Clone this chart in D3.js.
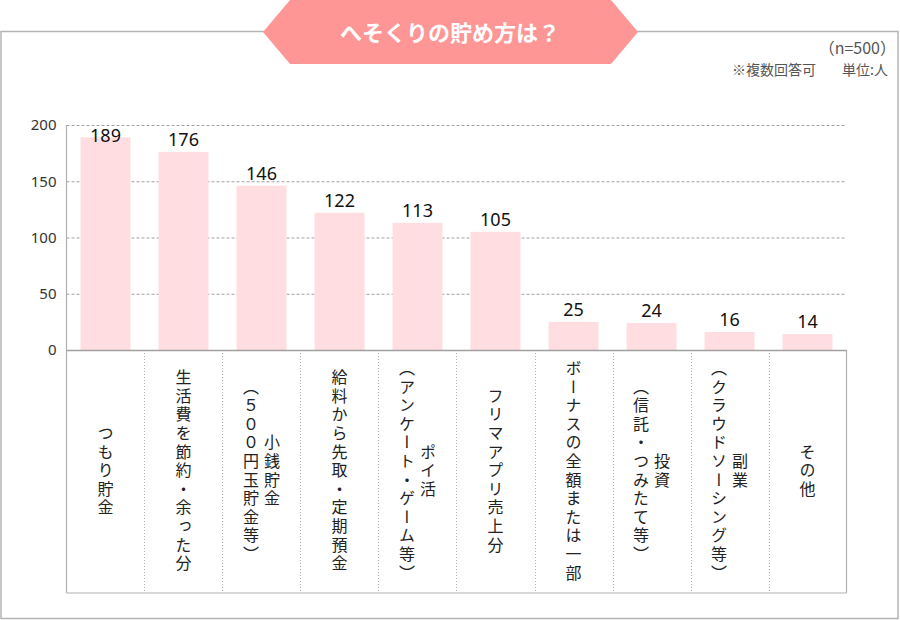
<!DOCTYPE html>
<html>
<head>
<meta charset="utf-8">
<script src="https://cdn.jsdelivr.net/npm/d3@7/dist/d3.min.js"></script>
<style>
  html, body { margin: 0; padding: 0; background: #fff; }
  svg { display: block; font-family: "Noto Sans CJK JP", "Noto Sans", sans-serif; }
</style>
</head>
<body>
<svg id="chart" width="900" height="620"></svg>
<script>
const title = "へそくりの貯め方は？";
const noteN = "（n=500）";
const noteMulti = "※複数回答可";
const noteUnit = "単位:人";
const categories = [
  "つもり貯金",
  "生活費を節約・余った分",
  "小銭貯金|（５００円玉貯金等）",
  "給料から先取・定期預金",
  "ポイ活|（アンケート・ゲーム等）",
  "フリマアプリ売上分",
  "ボーナスの全額または一部",
  "投資|（信託・つみたて等）",
  "副業|（クラウドソーシング等）",
  "その他"
];
const values = [189, 176, 146, 122, 113, 105, 25, 24, 16, 14];
const yTicks = [0, 50, 100, 150, 200];

const svg = d3.select("#chart");
const L = 66.5, R = 846.5, T = 125, B = 350, LB = 593;

// outer frame
svg.append("rect").attr("x", 1).attr("y", 31.5).attr("width", 897).attr("height", 587)
  .attr("fill", "none").attr("stroke", "#b4b4b4").attr("stroke-width", 1.5);

// title hexagon
svg.append("polygon")
  .attr("points", "263,32 290,0 611,0 638,32 611,64 290,64")
  .attr("fill", "#ff9696");
svg.append("text").attr("x", 450).attr("y", 41).attr("text-anchor", "middle")
  .attr("fill", "#fff").attr("font-size", 22).attr("font-weight", "bold").text(title);

// notes
svg.append("text").attr("x", 896).attr("y", 54).attr("text-anchor", "end")
  .attr("fill", "#555").attr("font-size", 16).text(noteN);
svg.append("text").attr("x", 732).attr("y", 75).attr("text-anchor", "start")
  .attr("fill", "#555").attr("font-size", 14).text(noteMulti);
svg.append("text").attr("x", 888).attr("y", 75).attr("text-anchor", "end")
  .attr("fill", "#555").attr("font-size", 14).text(noteUnit);

const x = d3.scaleBand().domain(d3.range(categories.length)).range([L, R])
  .paddingInner(0.36).paddingOuter(0.18);
const y = d3.scaleLinear().domain([0, 200]).range([B, T]);

// gridlines
svg.append("g").selectAll("line").data(yTicks.filter(d => d > 0)).join("line")
  .attr("x1", L).attr("x2", R).attr("y1", d => y(d) + 0.5).attr("y2", d => y(d) + 0.5)
  .attr("stroke", "#a0a0a0").attr("stroke-width", 1).attr("stroke-dasharray", "3,2");

// y axis
const yAxis = d3.axisLeft(y).tickValues(yTicks).tickSize(0).tickPadding(10);
const gy = svg.append("g").attr("transform", `translate(${L},0)`).call(yAxis);
gy.select(".domain").remove();
gy.selectAll("text").attr("font-size", 15).attr("fill", "#333")
  .attr("font-family", "'Noto Sans', sans-serif");

// bars
svg.append("g").selectAll("rect").data(values).join("rect")
  .attr("x", (d, i) => x(i)).attr("width", x.bandwidth())
  .attr("y", d => y(d)).attr("height", d => B - y(d))
  .attr("fill", "#ffdde0");

// value labels
svg.append("g").selectAll("text").data(values).join("text")
  .attr("x", (d, i) => x(i) + x.bandwidth() / 2)
  .attr("y", d => Math.max(y(d) - 6, 142))
  .attr("text-anchor", "middle").attr("font-size", 18).attr("fill", "#111")
  .attr("font-family", "'Noto Sans', sans-serif")
  .text(d => d);

// label area
const step = x.step();
const bounds = d3.range(1, categories.length).map(i => x(i) - x.paddingInner() * step / 2);
svg.append("g").selectAll("line").data(bounds).join("line")
  .attr("x1", d => Math.round(d) + 0.5).attr("x2", d => Math.round(d) + 0.5)
  .attr("y1", B).attr("y2", LB)
  .attr("stroke", "#b0b0b0").attr("stroke-width", 1).attr("stroke-dasharray", "1,2");

// axis lines
svg.append("line").attr("x1", L).attr("x2", L).attr("y1", T).attr("y2", LB)
  .attr("stroke", "#b0b0b0").attr("stroke-width", 1.2);
svg.append("line").attr("x1", R).attr("x2", R).attr("y1", B).attr("y2", LB)
  .attr("stroke", "#b0b0b0").attr("stroke-width", 1.2);
svg.append("line").attr("x1", L).attr("x2", R).attr("y1", LB).attr("y2", LB)
  .attr("stroke", "#b0b0b0").attr("stroke-width", 1.2);
svg.append("line").attr("x1", L).attr("x2", R).attr("y1", B + 0.5).attr("y2", B + 0.5)
  .attr("stroke", "#a0a0a0").attr("stroke-width", 1.5);

// category labels (vertical)
const midY = (B + LB) / 2;
const gl = svg.append("g");
categories.forEach((c, i) => {
  const lines = c.split("|");
  const cx = x(i) + x.bandwidth() / 2;
  const n = lines.length;
  lines.forEach((ln, j) => {
    const colX = cx + ((n - 1) / 2 - j) * 21;
    gl.append("text")
      .attr("x", colX).attr("y", midY)
      .attr("text-anchor", "middle")
      .style("writing-mode", "vertical-rl")
      .style("text-orientation", "mixed")
      .attr("font-size", 16).attr("letter-spacing", 2.6)
      .attr("fill", "#222")
      .text(ln);
  });
});
</script>
</body>
</html>
